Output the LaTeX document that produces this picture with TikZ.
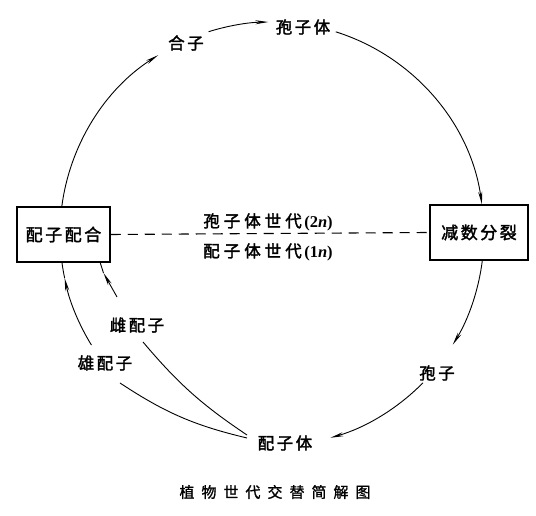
\documentclass[tikz,border=0pt]{standalone}
\usepackage{fontspec}
\setmainfont{Liberation Serif}
\newfontfamily\cjk{Noto Sans CJK SC}[FakeBold=2]
\newfontfamily\cjkc{Noto Sans CJK SC}[FakeBold=1.2]
\usetikzlibrary{arrows.meta,calc}
\newcommand\gp{\hspace{2.5pt}}
\newcommand\gw{\hspace{4pt}}
\newcommand\gq{\hspace{7pt}}
\begin{document}
\begin{tikzpicture}[x=1pt,y=1pt,
  lab/.style={font=\cjk\fontsize{16.5}{18}\selectfont, inner sep=1pt},
  captext/.style={font=\cjkc\fontsize{15}{17}\selectfont, inner sep=1pt},
  box/.style={draw, line width=1.5pt, minimum height=55pt, inner sep=0pt, font=\cjk\fontsize{17}{19}\selectfont},
  arr/.style={line width=0.9pt, -{Stealth[length=13pt,width=4pt]}},
  ln/.style={line width=0.9pt}]
\useasboundingbox (0,0) rectangle (536,516);
\coordinate (c) at (272,282);
% boxes
\node[box, minimum width=93pt] (zyg) at (63.5,281.5) {配\gp 子\gp 配\gp 合};
\node[box, minimum width=98pt] (mei) at (479,283.5) {减\gp 数\gp 分\gp 裂};
\draw[line width=1.1pt, dash pattern=on 10pt off 7pt] (zyg.east) -- (mei.west);
% generation labels
\node[lab] (g2) at (268,294) {孢\gw 子\gw 体\gw 世\gw 代\gp{\rmfamily\bfseries(2\textit{n})}};
\node[lab] (g1) at (268,264) {配\gw 子\gw 体\gw 世\gw 代\gp{\rmfamily\bfseries(1\textit{n})}};
% cycle labels
\node[lab] (hz) at (186,473) {合\gp 子};
\node[lab] (bzt) at (303,489) {孢\gp 子\gp 体};
\node[lab] (bz) at (437,143) {孢\gp 子};
\node[lab] (pzt) at (285,73) {配\gp 子\gp 体};
\node[lab] (cpz) at (137,191) {雌\gp 配\gp 子};
\node[lab] (xpz) at (105,153) {雄\gp 配\gp 子};
% circle arcs
\coordinate (a1) at ($(c)+(172.7:212)$);
\coordinate (a2) at ($(c)+(107.4:212)$);
\coordinate (a3) at ($(c)+(72.5:212)$);
\coordinate (a4) at ($(c)+(-7:212)$);
\coordinate (a5) at ($(c)+(-44.6:212)$);
\coordinate (a6) at ($(c)+(211.6:212)$);
\coordinate (a7) at ($(c)+(192:212)$);
\draw[arr] (a1) arc[start angle=172.7, end angle=122.5, radius=212];
\draw[arr] (a2) arc[start angle=107.4, end angle=91, radius=212];
\draw[arr] (a3) arc[start angle=72.5, end angle=8, radius=212];
\draw[arr] (a4) arc[start angle=-7, end angle=-31.5, radius=212];
\draw[arr] (a5) arc[start angle=-44.6, end angle=-74, radius=212];
\draw[arr] (a6) arc[start angle=211.6, end angle=192, radius=212];
\draw[ln] (a7) arc[start angle=192, end angle=187.6, radius=212];
% gametophyte to gametes
\coordinate (p1) at (247,78);
\coordinate (p2) at (247,81);
\coordinate (x1) at (120,133);
\coordinate (c1) at (143,174);
\draw[ln] (p1) to[bend left=10] (x1);
\draw[ln] (p2) to[bend left=8] (c1);
\coordinate (c2) at (117,219);
\coordinate (c3) at (103.5,243);
\coordinate (c4) at (100,254);
\draw[arr] (c2) -- (c3);
\draw[ln] (c3) -- (c4);
% caption
\node[captext] (title) at (275,24) {植\gq 物\gq 世\gq 代\gq 交\gq 替\gq 简\gq 解\gq 图};
\end{tikzpicture}
\end{document}
